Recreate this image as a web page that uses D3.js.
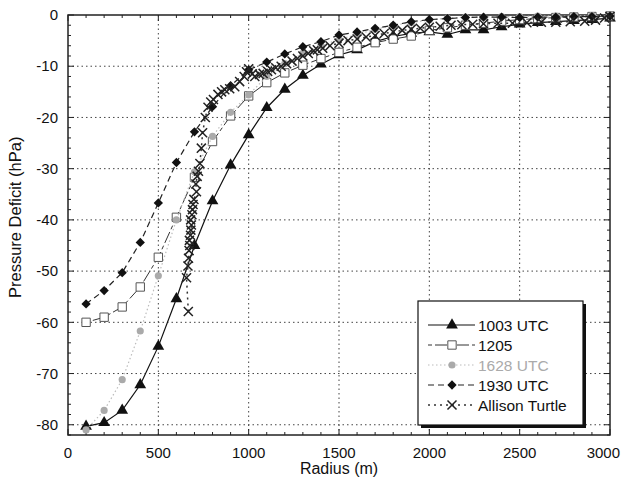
<!DOCTYPE html>
<html>
<head>
<meta charset="utf-8">
<script src="https://cdn.jsdelivr.net/npm/d3@7"></script>
<style>
  body { margin: 0; background: #fff; }
  text { font-family: "Liberation Sans", Arial, sans-serif; }
</style>
</head>
<body>
<div id="chart"></div>
<script>
// Pressure deficit profiles vs radius

const r1003 = [100,200,300,400,500,600,700,800,900,1000,1100,1200,1300,1400,1500,1600,1700,1800,1900,2000,2100,2200,2300,2400,2500,2600,2700,2800,2900,3000];
const p1003 = [-80.3,-79.6,-77.2,-72.2,-64.7,-55.4,-45,-36.3,-29.3,-23.4,-18.1,-14.5,-11.8,-9.6,-7.8,-6.8,-5.2,-4.2,-3.6,-3.3,-3.8,-2.9,-2.9,-2.3,-1.8,-1.5,-1.3,-1.1,-0.9,-0.6];

const r1205 = [100,200,300,400,500,600,700,800,900,1000,1100,1200,1300,1400,1500,1600,1700,1800,1900,2000,2100,2200,2300,2400,2500,2600,2700,2800,2900,3000];
const p1205 = [-60,-59,-57,-53.1,-47.3,-39.5,-31.7,-24.7,-19.7,-15.8,-13.2,-11.3,-9.8,-8.5,-7.3,-6.3,-5.4,-4.7,-4.1,-3.0,-2.5,-2.0,-1.6,-1.2,-0.9,-0.7,-0.5,-0.4,-0.3,-0.2];

const r1628 = [100,200,300,400,500,600,700,800,900,1000,1100,1200,1300,1400,1500,1600,1700,1800,1900,2000,2100,2200,2300,2400,2500,2600,2700,2800,2900,3000];
const p1628 = [-81,-77.2,-71.2,-61.7,-50.9,-40,-30.6,-23.7,-19,-15.6,-12,-9.5,-7.5,-6,-4.8,-3.8,-2.8,-2,-1.5,-1,-0.6,-0.4,-0.4,-0.3,-0.3,-0.2,-0.2,-0.2,-0.1,-0.1];

const r1930 = [100,200,300,400,500,600,700,800,900,1000,1100,1200,1300,1400,1500,1600,1700,1800,1900,2000,2100,2200,2300,2400,2500,2600,2700,2800,2900,3000];
const p1930 = [-56.4,-53.8,-50.3,-44.4,-36.7,-28.8,-22.8,-17.9,-13.8,-10.7,-9.2,-7.6,-6.2,-5.2,-3.9,-3.3,-2.6,-2.0,-1.3,-0.9,-0.7,-0.5,-0.4,-0.4,-0.5,-0.4,-0.4,-0.3,-0.3,-0.2];

const rTurtle = [666,656,664,667,670,674,672,678,680,683,679,686,689,692,697,711,708,715,722,730,738,745,760,775,790,805,830,850,868,895,923,950,975,988,1000,1020,1034,1060,1080,1105,1126,1150,1180,1210,1240,1270,1300,1330,1360,1380,1410,1450,1500,1550,1600,1650,1700,1750,1800,1850,1900,1950,2000,2060,2120,2180,2240,2300,2380,2460,2540,2620,2700,2780,2860,2920,2970,3000];
const pTurtle = [-57.9,-51.3,-49,-47.5,-46,-45,-44,-43,-42,-41,-40,-39,-38,-37,-36,-34.5,-33,-31.5,-30.5,-29,-26,-23,-20,-18,-17,-16.5,-15.5,-15,-14.6,-14.4,-14,-13,-12,-11.1,-10.5,-11.5,-12,-11.6,-11.4,-11,-10.7,-10.3,-10,-9.5,-9,-8.5,-8,-7.5,-7,-6.8,-6.5,-6,-5.5,-5,-4.7,-4.3,-4,-3.6,-3.3,-3,-2.8,-2.6,-2.4,-2.2,-2,-1.9,-1.8,-1.7,-1.6,-1.6,-1.5,-1.4,-1.4,-1.3,-1.2,-1.0,-0.6,-0.3];

const seriesNames = ["1003 UTC", "1205", "1628 UTC", "1930 UTC", "Allison Turtle"];

const xTicks = [0, 500, 1000, 1500, 2000, 2500, 3000];
const yTicks = [0, -10, -20, -30, -40, -50, -60, -70, -80];

const W = 621, H = 486;
const margin = {top: 15, right: 11, bottom: 51, left: 68};
const width = W - margin.left - margin.right,
      height = H - margin.top - margin.bottom;

const svg = d3.select("#chart").append("svg")
  .attr("width", W).attr("height", H);
const g = svg.append("g").attr("transform", `translate(${margin.left},${margin.top})`);

const x = d3.scaleLinear().domain([0, 3000]).range([0, width]);
const y = d3.scaleLinear().domain([-82, 0]).range([height, 0]);

// dotted grid
g.append("g").selectAll("line").data(xTicks.slice(1, -1)).join("line")
  .attr("x1", d => x(d)).attr("x2", d => x(d)).attr("y1", 0).attr("y2", height)
  .attr("stroke", "#444").attr("stroke-width", 1).attr("stroke-dasharray", "1.5,3");
g.append("g").selectAll("line").data(yTicks.slice(1)).join("line")
  .attr("x1", 0).attr("x2", width).attr("y1", d => y(d)).attr("y2", d => y(d))
  .attr("stroke", "#444").attr("stroke-width", 1).attr("stroke-dasharray", "1.5,3");

// inner ticks on all sides
const xMinor = d3.range(0, 3001, 100);
const yMinor = d3.range(-82, 0.1, 2);
function tickLen(isMajor) { return isMajor ? 6 : 3; }
const ticks = g.append("g").attr("stroke", "#222").attr("stroke-width", 1);
xMinor.forEach(v => {
  const L = tickLen(v % 500 === 0);
  ticks.append("line").attr("x1", x(v)).attr("x2", x(v)).attr("y1", height).attr("y2", height - L);
  ticks.append("line").attr("x1", x(v)).attr("x2", x(v)).attr("y1", 0).attr("y2", L);
});
yMinor.forEach(v => {
  const L = tickLen(v % 10 === 0);
  ticks.append("line").attr("x1", 0).attr("x2", L).attr("y1", y(v)).attr("y2", y(v));
  ticks.append("line").attr("x1", width).attr("x2", width - L).attr("y1", y(v)).attr("y2", y(v));
});

// frame
g.append("rect").attr("width", width).attr("height", height)
  .attr("fill", "none").attr("stroke", "#222").attr("stroke-width", 1.5);

// tick labels
g.append("g").selectAll("text").data(xTicks).join("text")
  .attr("x", d => d === 3000 ? W - margin.left - 1 : x(d)).attr("y", height + 23)
  .attr("text-anchor", d => d === 3000 ? "end" : "middle")
  .attr("font-size", 15).attr("fill", "#111")
  .text(d => d);
g.append("g").selectAll("text").data(yTicks).join("text")
  .attr("x", -10).attr("y", d => y(d)).attr("dy", "0.35em")
  .attr("text-anchor", "end").attr("font-size", 15).attr("fill", "#111")
  .text(d => d);

// axis titles
svg.append("text").attr("x", margin.left + width / 2).attr("y", 474)
  .attr("text-anchor", "middle").attr("font-size", 16).attr("fill", "#111")
  .text("Radius (m)");
svg.append("text").attr("transform", `translate(21,${margin.top + y(-39.5)}) rotate(-90)`)
  .attr("text-anchor", "middle").attr("font-size", 16.5).attr("fill", "#111")
  .text("Pressure Deficit (hPa)");

const symTimes = d3.symbolTimes || d3.symbolX || d3.symbolCross;
const symDiamond = d3.symbolDiamond2 || d3.symbolDiamond;

const styles = [
  {r: r1003, p: p1003, color: "#111", dash: null, sym: d3.symbolTriangle, size: 60, fill: "#111", stroke: "none", lw: 1.2},
  {r: r1205, p: p1205, color: "#333", dash: "4,3,12,3", sym: d3.symbolSquare, size: 70, fill: "#fff", stroke: "#555", lw: 1},
  {r: r1628, p: p1628, color: "#bbb", dash: "1.5,2.5", sym: d3.symbolCircle, size: 40, fill: "#aaa", stroke: "none", lw: 1.2},
  {r: r1930, p: p1930, color: "#222", dash: "6,4", sym: symDiamond, size: 55, fill: "#111", stroke: "none", lw: 1.2},
  {r: rTurtle, p: pTurtle, color: "#333", dash: "2,4", sym: symTimes, size: 55, fill: "none", stroke: "#222", lw: 1.5}
];

const line = d3.line();
styles.forEach((s, i) => {
  const pts = s.r.map((rv, j) => [x(rv), y(s.p[j])]);
  g.append("path").attr("d", line(pts))
    .attr("fill", "none").attr("stroke", s.color).attr("stroke-width", s.lw)
    .attr("stroke-dasharray", s.dash);
  g.append("g").selectAll("path").data(pts).join("path")
    .attr("transform", d => `translate(${d[0]},${d[1]})`)
    .attr("d", d3.symbol().type(s.sym).size(s.size))
    .attr("fill", s.fill).attr("stroke", s.stroke).attr("stroke-width", s.lw);
});

// legend with shadow
const lx = 418, ly = 301, lw = 165, lh = 124;
svg.append("rect").attr("x", lx + 3).attr("y", ly + 3).attr("width", lw).attr("height", lh).attr("fill", "#111");
svg.append("rect").attr("x", lx).attr("y", ly).attr("width", lw).attr("height", lh)
  .attr("fill", "#fff").attr("stroke", "#111").attr("stroke-width", 1.2);
styles.forEach((s, i) => {
  const yy = ly + 24 + i * 20;
  svg.append("line").attr("x1", lx + 10).attr("x2", lx + 57).attr("y1", yy).attr("y2", yy)
    .attr("stroke", s.color).attr("stroke-width", s.lw).attr("stroke-dasharray", s.dash);
  svg.append("path").attr("transform", `translate(${lx + 34},${yy})`)
    .attr("d", d3.symbol().type(s.sym).size(s.size))
    .attr("fill", s.fill).attr("stroke", s.stroke).attr("stroke-width", s.lw);
  svg.append("text").attr("x", lx + 60).attr("y", yy).attr("dy", "0.36em")
    .attr("font-size", 15.5).attr("fill", i === 2 ? "#aaa" : "#111")
    .text(seriesNames[i]);
});
</script>
</body>
</html>
